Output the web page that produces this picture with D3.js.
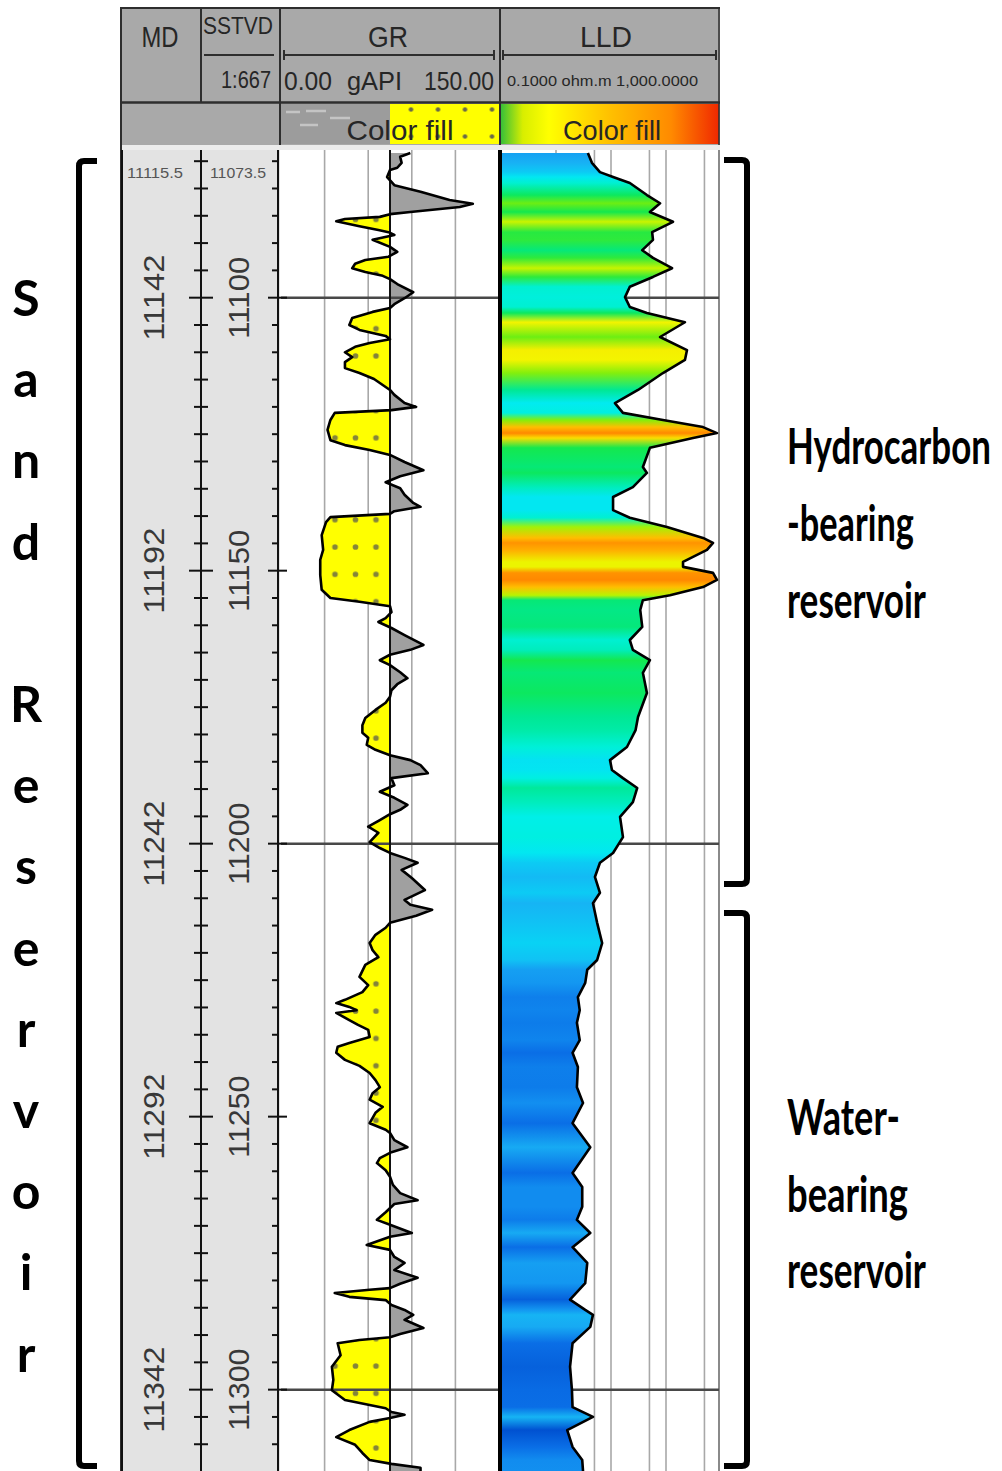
<!DOCTYPE html>
<html>
<head>
<meta charset="utf-8">
<script src="https://cdn.jsdelivr.net/npm/d3@7"></script>
<style>
  body { margin: 0; background: #fff; }
  svg { display: block; }
</style>
</head>
<body>
<div class="chart"></div>
<script>
// well log: GR + LLD over the sand reservoir
var svgWidth = 1002;
var svgHeight = 1471;

// depth (SSTVD, ft) and gamma ray (gAPI)
var grDepth = [
  11073.5, 11074.2, 11075.3, 11076.2, 11076.6, 11077.9, 11078.8, 11079.4, 11080.6, 11082.1,
  11082.8, 11083.4, 11084.3, 11084.7, 11085.2, 11085.6, 11086.0, 11086.9, 11087.6, 11088.0,
  11088.5, 11089.4, 11090.7, 11091.6, 11092.5, 11093.1, 11093.8, 11094.6, 11095.3, 11096.0,
  11096.6, 11097.5, 11099.0, 11100.1, 11101.2, 11101.9, 11102.6, 11103.7, 11105.0, 11105.9,
  11107.0, 11107.6, 11108.3, 11109.0, 11110.0, 11110.9, 11111.8, 11112.9, 11113.8, 11114.9,
  11116.0, 11116.9, 11117.8, 11119.3, 11120.0, 11120.6, 11121.1, 11122.4, 11124.2, 11126.1,
  11127.0, 11127.9, 11128.8, 11130.1, 11131.6, 11132.7, 11133.8, 11134.9, 11136.1, 11137.6,
  11138.3, 11139.1, 11139.6, 11140.2, 11141.1, 11143.5, 11146.2, 11148.0, 11150.8, 11153.5,
  11155.0, 11155.7, 11156.5, 11157.6, 11158.7, 11159.4, 11160.5, 11161.8, 11163.6, 11164.5,
  11165.4, 11166.4, 11167.3, 11168.6, 11169.7, 11170.8, 11171.9, 11173.1, 11174.2, 11175.5,
  11177.0, 11178.3, 11179.7, 11180.6, 11181.9, 11182.8, 11183.8, 11184.7, 11185.6, 11187.1,
  11188.0, 11189.3, 11190.5, 11191.6, 11192.9, 11193.8, 11194.6, 11195.7, 11196.9, 11198.0,
  11199.7, 11200.8, 11201.7, 11202.6, 11203.5, 11204.8, 11206.3, 11208.5, 11210.3, 11211.2,
  11212.1, 11213.2, 11214.5, 11215.4, 11216.7, 11218.2, 11219.5, 11220.8, 11222.2, 11224.4,
  11225.9, 11227.2, 11228.6, 11229.2, 11229.9, 11230.5, 11231.0, 11232.3, 11233.2, 11234.1,
  11235.4, 11236.5, 11237.2, 11238.3, 11239.6, 11240.7, 11242.0, 11243.3, 11244.6, 11245.7,
  11246.9, 11248.2, 11249.3, 11251.2, 11252.4, 11253.0, 11254.3, 11255.6, 11256.5, 11257.6,
  11258.5, 11259.8, 11261.0, 11262.5, 11264.0, 11265.3, 11266.0, 11267.5, 11268.9, 11269.8,
  11271.3, 11272.0, 11273.5, 11274.4, 11275.7, 11276.8, 11278.1, 11279.5, 11280.6, 11281.4,
  11281.7, 11282.3, 11283.0, 11283.6, 11284.5, 11285.4, 11286.3, 11287.2, 11288.7, 11289.8,
  11290.4, 11290.9, 11291.5, 11293.7, 11295.8, 11298.2, 11300.1, 11301.9, 11303.4, 11304.1,
  11304.6, 11305.2, 11305.9, 11307.4, 11308.7, 11310.1, 11311.6, 11312.9, 11313.6, 11314.3,
  11314.9
];
var grValue = [
  89, 82, 83, 80, 75, 73, 76, 78, 96, 116,
  132, 123, 89, 75, 68, 44, 38, 54, 67, 74,
  78, 63, 75, 80, 74, 58, 51, 49, 58, 70,
  75, 80, 91, 85, 78, 75, 63, 49, 47, 54,
  72, 75, 61, 51, 44, 49, 44, 44, 54, 64,
  70, 75, 78, 85, 93, 76, 37, 34, 32, 34,
  44, 61, 75, 85, 98, 82, 72, 82, 85, 91,
  96, 78, 75, 34, 31, 28, 29, 27, 27, 28,
  34, 54, 75, 76, 72, 67, 76, 85, 98, 89,
  75, 68, 75, 82, 87, 80, 76, 75, 72, 65,
  58, 56, 56, 60, 59, 65, 75, 89, 96, 101,
  76, 78, 68, 78, 87, 82, 75, 68, 60, 67,
  61, 68, 75, 85, 94, 83, 90, 99, 85, 89,
  104, 93, 75, 72, 65, 61, 63, 67, 58, 54,
  60, 56, 44, 38, 47, 52, 38, 47, 53, 60,
  61, 47, 39, 38, 44, 54, 61, 65, 68, 63,
  61, 70, 65, 61, 72, 75, 78, 87, 76, 68,
  66, 72, 75, 77, 82, 94, 78, 72, 66, 75,
  90, 75, 59, 75, 78, 85, 78, 94, 82, 75,
  61, 37, 47, 72, 76, 85, 91, 85, 98, 82,
  75, 54, 39, 41, 35, 36, 35, 44, 72, 76,
  85, 75, 61, 47, 38, 51, 56, 61, 76, 96,
  96
];

// depth (SSTVD, ft) and deep laterolog resistivity (ohm.m)
var lldDepth = [
  11073.5, 11075.3, 11077.0, 11077.9, 11079.0, 11081.2, 11082.7, 11084.3, 11086.1, 11088.0,
  11089.4, 11091.3, 11092.7, 11094.6, 11096.2, 11098.0, 11099.9, 11101.7, 11102.8, 11104.5,
  11107.2, 11109.6, 11111.4, 11113.8, 11116.9, 11119.3, 11121.1, 11122.4, 11123.7, 11124.8,
  11125.7, 11127.5, 11131.0, 11132.1, 11134.7, 11136.5, 11138.9, 11140.3, 11142.0, 11144.0,
  11144.9, 11146.2, 11148.4, 11149.3, 11150.4, 11151.7, 11153.0, 11154.5, 11155.4, 11157.2,
  11160.3, 11162.7, 11164.5, 11166.4, 11168.7, 11172.4, 11176.8, 11179.2, 11182.3, 11184.7,
  11186.5, 11188.0, 11189.8, 11192.4, 11195.1, 11198.8, 11201.7, 11203.5, 11206.1, 11209.0,
  11210.9, 11214.5, 11218.2, 11221.3, 11223.1, 11225.5, 11228.1, 11230.5, 11232.8, 11236.0,
  11238.3, 11240.9, 11244.6, 11247.5, 11251.2, 11255.6, 11260.3, 11262.9, 11266.5, 11268.9,
  11271.3, 11273.9, 11276.8, 11280.5, 11283.5, 11285.4, 11286.3, 11288.5, 11291.5, 11295.8,
  11300.1, 11303.2, 11305.0, 11307.4, 11310.5, 11312.9, 11314.9
];
var lldValue = [
  3.8, 4.5, 6.3, 10.9, 22, 45, 78, 51, 134, 56,
  58, 37, 58, 129, 58, 22, 18, 22, 45, 221,
  78, 241, 221, 88, 31, 11.8, 16.5, 88, 471, 845,
  310, 51, 38, 45, 25, 10.9, 10.9, 22, 104, 471,
  716, 556, 204, 204, 716, 845, 471, 118, 38, 34,
  37, 22, 25, 51, 38, 45, 31, 28, 19.5, 9.6,
  10.4, 16.5, 30, 25, 14.6, 16.5, 10.9, 6.3, 5.1, 6.3,
  4.7, 5.6, 6.9, 5.6, 3.7, 3.4, 2.5, 2.7, 2.4, 2.7,
  2.0, 2.5, 2.4, 3.1, 2.0, 4.2, 2.0, 3.0, 3.0, 2.4,
  4.2, 2.0, 3.7, 3.4, 1.8, 3.4, 4.7, 4.2, 2.0, 1.8,
  1.95, 2.0, 4.7, 1.6, 2.0, 3.0, 3.1
];

var grCutoff = 75;
var grGrid = [30, 60, 90, 120];
var lldGrid = [1, 5, 10, 50, 100, 500];
var depthLines = [11100, 11200, 11300];
var tvdLabels = [11100, 11150, 11200, 11250, 11300];
var mdOffset = 42;
var topTvd = "11073.5";
var topMd = "11115.5";
var sideWord = ["S", "a", "n", "d", "", "R", "e", "s", "e", "r", "v", "o", "i", "r"];
var hcLabel = ["Hydrocarbon", "-bearing", "reservoir"];
var waterLabel = ["Water-", "bearing", "reservoir"];

var svg = d3.select(".chart")
  .append("svg")
  .attr("width", svgWidth)
  .attr("height", svgHeight);
var defs = svg.append("defs");

var y = d3.scaleLinear().domain([11073.5, 11314.9]).range([153, 1471]);
var xGR = d3.scaleLinear().domain([0, 150]).range([281, 499]);
var xLLD = d3.scaleLog().domain([0.1, 1000]).range([501, 721]);
var trackTop = 150, trackBottom = 1471;
var armFont = "'Liberation Sans', Arial, sans-serif";
var boldFont = "Lato, 'Open Sans', sans-serif";

// resistivity colour fill, blue (wet) to orange (pay)
var lldColor = d3.scaleLinear()
  .domain([0.2, 0.3, 0.5, 0.65, 0.85, 1.1, 1.35, 1.5, 1.7, 1.9, 2.1, 2.35, 2.65, 2.9])
  .range(["#0050d0", "#0a6ee6", "#1290f0", "#18b0f4", "#08d4f4", "#00eef0", "#00f0d0",
          "#00e890", "#10e850", "#70ee10", "#c4f400", "#f4f400", "#ffc400", "#ff8800"])
  .clamp(true);

var grRows = grDepth.map(function(d, i) { return {depth: d, v: grValue[i]}; });
var lldRows = lldDepth.map(function(d, i) { return {depth: d, v: lldValue[i]}; });

// ---- patterns / gradients
var dots = defs.append("pattern").attr("id", "sandDots")
  .attr("patternUnits", "userSpaceOnUse")
  .attr("x", 324.75).attr("y", 533.35).attr("width", 20.5).attr("height", 27.3);
dots.append("rect").attr("width", 20.5).attr("height", 27.3).attr("fill", "#ffff00");
dots.append("circle").attr("cx", 10.25).attr("cy", 13.65).attr("r", 2.8).attr("fill", "#84843a");

var dotsLegend = defs.append("pattern").attr("id", "sandDotsLegend")
  .attr("patternUnits", "userSpaceOnUse")
  .attr("x", 397.5).attr("y", 96).attr("width", 27).attr("height", 27);
dotsLegend.append("rect").attr("width", 27).attr("height", 27).attr("fill", "#ffff00");
dotsLegend.append("circle").attr("cx", 13.5).attr("cy", 13.5).attr("r", 2.3).attr("fill", "#6a6a48");

var legGrad = defs.append("linearGradient").attr("id", "lldLegend")
  .attr("x1", "0%").attr("x2", "100%").attr("y1", "0%").attr("y2", "0%");
[[0, "#38c038"], [0.1, "#d8ee00"], [0.22, "#ffff00"], [0.5, "#ffc000"], [0.78, "#ff8a00"], [1, "#f02800"]]
  .forEach(function(s) { legGrad.append("stop").attr("offset", s[0]).attr("stop-color", s[1]); });

var gy0 = y(lldDepth[0]), gy1 = y(lldDepth[lldDepth.length - 1]);
var fillGrad = defs.append("linearGradient").attr("id", "lldFill")
  .attr("gradientUnits", "userSpaceOnUse")
  .attr("x1", 0).attr("x2", 0).attr("y1", gy0).attr("y2", gy1);
fillGrad.selectAll("stop").data(lldRows).enter().append("stop")
  .attr("offset", function(d) { return (y(d.depth) - gy0) / (gy1 - gy0); })
  .attr("stop-color", function(d) { return lldColor(Math.log10(d.v)); });

defs.append("clipPath").attr("id", "grLeft").append("rect")
  .attr("x", 281).attr("y", trackTop).attr("width", xGR(grCutoff) - 281).attr("height", trackBottom - trackTop);
defs.append("clipPath").attr("id", "grRight").append("rect")
  .attr("x", xGR(grCutoff)).attr("y", trackTop).attr("width", 499 - xGR(grCutoff)).attr("height", trackBottom - trackTop);
defs.append("clipPath").attr("id", "lldClip").append("rect")
  .attr("x", 501).attr("y", trackTop).attr("width", 218).attr("height", trackBottom - trackTop);

// ---- header
var head = svg.append("g");
head.append("rect").attr("x", 120).attr("y", 7).attr("width", 600).attr("height", 138).attr("fill", "#a9a9a9");
head.append("rect").attr("x", 281).attr("y", 104).attr("width", xGR(grCutoff) - 281).attr("height", 40).attr("fill", "#9c9c9c");
[[286, 112, 300], [306, 111, 326], [300, 125, 318], [330, 118, 350]].forEach(function(s) {
  head.append("line").attr("x1", s[0]).attr("x2", s[2]).attr("y1", s[1]).attr("y2", s[1])
    .attr("stroke", "#c4c4c4").attr("stroke-width", 2.5);
});
head.append("rect").attr("x", xGR(grCutoff)).attr("y", 104).attr("width", 499 - xGR(grCutoff)).attr("height", 40)
  .attr("fill", "url(#sandDotsLegend)");
head.append("rect").attr("x", 501).attr("y", 104).attr("width", 218).attr("height", 40).attr("fill", "url(#lldLegend)");
head.append("rect").attr("x", 120).attr("y", 145).attr("width", 600).attr("height", 5).attr("fill", "#ececec");

var hl = [[120, 8, 720, 8, 2], [120, 102.5, 720, 102.5, 2.5], [121, 7, 121, trackBottom, 2],
          [201, 7, 201, 102, 2], [280, 7, 280, 145, 2], [500, 7, 500, 145, 2], [719, 7, 719, 145, 1.5],
          [204, 55, 274, 55, 2], [284, 55, 494, 55, 2], [284, 50, 284, 60, 2], [494, 50, 494, 60, 2],
          [503, 55, 716, 55, 2], [503, 50, 503, 60, 2], [716, 50, 716, 60, 2]];
hl.forEach(function(l) {
  head.append("line").attr("x1", l[0]).attr("y1", l[1]).attr("x2", l[2]).attr("y2", l[3])
    .attr("stroke", "#2e2e2e").attr("stroke-width", l[4]);
});

var headText = [
  ["MD", 160, 47, 30, 37, "middle"], ["SSTVD", 238, 34, 24, 70, "middle"], ["1:667", 271, 88, 24, 50, "end"],
  ["GR", 388, 47, 30, 40, "middle"], ["LLD", 606, 47, 30, 52, "middle"],
  ["0.00", 284, 90, 26, 48, "start"], ["gAPI", 347, 90, 26, 55, "start"], ["150.00", 494, 90, 26, 70, "end"],
  ["0.1000 ohm.m 1,000.0000", 507, 86, 14, 191, "start"],
  ["Color fill", 400, 140, 28, 107, "middle"], ["Color fill", 612, 140, 28, 98, "middle"]
];
headText.forEach(function(t) {
  head.append("text").text(t[0])
    .attr("x", t[1]).attr("y", t[2])
    .attr("font-family", armFont).attr("font-size", t[3])
    .attr("textLength", t[4]).attr("lengthAdjust", "spacingAndGlyphs")
    .attr("text-anchor", t[5]).attr("fill", "#262626");
});

// ---- track backgrounds
svg.append("rect").attr("x", 122).attr("y", trackTop).attr("width", 158).attr("height", trackBottom - trackTop).attr("fill", "#e3e3e3");
svg.append("rect").attr("x", 281).attr("y", trackTop).attr("width", 218).attr("height", trackBottom - trackTop).attr("fill", "#fff");
svg.append("rect").attr("x", 501).attr("y", trackTop).attr("width", 218).attr("height", trackBottom - trackTop).attr("fill", "#fff");

// grid
svg.selectAll(".grGrid").data(grGrid).enter().append("line")
  .attr("x1", function(d) { return xGR(d); }).attr("x2", function(d) { return xGR(d); })
  .attr("y1", trackTop).attr("y2", trackBottom)
  .attr("stroke", "#a8a8a8").attr("stroke-width", 1.6);
svg.selectAll(".lldGrid").data(lldGrid).enter().append("line")
  .attr("x1", function(d) { return xLLD(d); }).attr("x2", function(d) { return xLLD(d); })
  .attr("y1", trackTop).attr("y2", trackBottom)
  .attr("stroke", "#a8a8a8").attr("stroke-width", 1.6);
svg.append("line").attr("x1", 719).attr("x2", 719).attr("y1", trackTop).attr("y2", trackBottom)
  .attr("stroke", "#8a8a8a").attr("stroke-width", 2);
svg.selectAll(".dLineL").data(depthLines).enter().append("line")
  .attr("x1", 501).attr("x2", 719)
  .attr("y1", function(d) { return y(d); }).attr("y2", function(d) { return y(d); })
  .attr("stroke", "#484848").attr("stroke-width", 2.5);

// ---- GR fills and curve
var grArea = d3.area()
  .y(function(d) { return y(d.depth); })
  .x0(xGR(grCutoff))
  .x1(function(d) { return xGR(d.v); });
svg.append("path").datum(grRows).attr("d", grArea)
  .attr("fill", "url(#sandDots)").attr("clip-path", "url(#grLeft)");
svg.append("path").datum(grRows).attr("d", grArea)
  .attr("fill", "#a0a0a0").attr("clip-path", "url(#grRight)");
svg.selectAll(".dLineG").data(depthLines).enter().append("line")
  .attr("x1", 281).attr("x2", 499)
  .attr("y1", function(d) { return y(d); }).attr("y2", function(d) { return y(d); })
  .attr("stroke", "#484848").attr("stroke-width", 2.5);
svg.append("line").attr("x1", xGR(grCutoff)).attr("x2", xGR(grCutoff))
  .attr("y1", trackTop).attr("y2", trackBottom).attr("stroke", "#111").attr("stroke-width", 2);
svg.append("path").datum(grRows)
  .attr("d", d3.line().x(function(d) { return xGR(d.v); }).y(function(d) { return y(d.depth); }))
  .attr("fill", "none").attr("stroke", "#000").attr("stroke-width", 2.6).attr("stroke-linejoin", "round");

// ---- LLD colour fill and curve
var lldArea = d3.area()
  .y(function(d) { return y(d.depth); })
  .x0(501)
  .x1(function(d) { return xLLD(d.v); });
svg.append("path").datum(lldRows).attr("d", lldArea)
  .attr("fill", "url(#lldFill)").attr("clip-path", "url(#lldClip)");
svg.append("path").datum(lldRows)
  .attr("d", d3.line().x(function(d) { return xLLD(d.v); }).y(function(d) { return y(d.depth); }))
  .attr("fill", "none").attr("stroke", "#000").attr("stroke-width", 2.6).attr("stroke-linejoin", "round");
svg.append("line").attr("x1", 500).attr("x2", 500).attr("y1", trackTop).attr("y2", trackBottom)
  .attr("stroke", "#000").attr("stroke-width", 4);

// ---- depth track
[122, 201, 278].forEach(function(x) {
  svg.append("line").attr("x1", x).attr("x2", x).attr("y1", trackTop).attr("y2", trackBottom)
    .attr("stroke", "#111").attr("stroke-width", 2);
});
var ticks = d3.range(11075, 11315, 5);
svg.selectAll(".tickC").data(ticks).enter().append("line")
  .attr("x1", function(d) { return d % 50 === 0 ? 189 : 194; })
  .attr("x2", function(d) { return d % 50 === 0 ? 213 : 208; })
  .attr("y1", function(d) { return y(d); }).attr("y2", function(d) { return y(d); })
  .attr("stroke", "#111").attr("stroke-width", 2);
svg.selectAll(".tickR").data(ticks).enter().append("line")
  .attr("x1", function(d) { return d % 50 === 0 ? 268 : 272; })
  .attr("x2", function(d) { return d % 50 === 0 ? 287 : 278; })
  .attr("y1", function(d) { return y(d); }).attr("y2", function(d) { return y(d); })
  .attr("stroke", "#111").attr("stroke-width", 2);

svg.selectAll(".mdLab").data(tvdLabels).enter().append("text")
  .text(function(d) { return d + mdOffset; })
  .attr("transform", function(d) { return "translate(153," + y(d) + ") rotate(-90)"; })
  .attr("text-anchor", "middle").attr("dy", "0.36em")
  .attr("font-family", armFont).attr("font-size", 30)
  .attr("textLength", 86).attr("lengthAdjust", "spacingAndGlyphs")
  .attr("fill", "#383838");
svg.selectAll(".tvdLab").data(tvdLabels).enter().append("text")
  .text(function(d) { return d; })
  .attr("transform", function(d) { return "translate(238," + y(d) + ") rotate(-90)"; })
  .attr("text-anchor", "middle").attr("dy", "0.36em")
  .attr("font-family", armFont).attr("font-size", 30)
  .attr("textLength", 82).attr("lengthAdjust", "spacingAndGlyphs")
  .attr("fill", "#383838");
[[topMd, 155], [topTvd, 238]].forEach(function(t) {
  svg.append("text").text(t[0]).attr("x", t[1]).attr("y", 178)
    .attr("text-anchor", "middle").attr("font-family", armFont).attr("font-size", 14)
    .attr("textLength", 56).attr("lengthAdjust", "spacingAndGlyphs").attr("fill", "#555");
});

// ---- brackets and annotations
var brackets = [
  "M97,161 H84 Q79,161 79,166 V1461 Q79,1466 84,1466 H97",
  "M724,160 H742 Q747,160 747,165 V879 Q747,884 742,884 H724",
  "M724,913 H742 Q747,913 747,918 V1461 Q747,1466 742,1466 H724"
];
svg.selectAll(".bracket").data(brackets).enter().append("path")
  .attr("d", function(d) { return d; })
  .attr("fill", "none").attr("stroke", "#000").attr("stroke-width", 6);

svg.selectAll(".side").data(sideWord).enter().append("text")
  .text(function(d) { return d; })
  .attr("x", 26).attr("y", function(d, i) { return 316 + i * 81.2; })
  .attr("text-anchor", "middle")
  .attr("font-family", boldFont).attr("font-weight", 700).attr("font-size", 50)
  .attr("fill", "#000");

// condensed bold labels: squeeze each line horizontally to its width in the picture
function squeezed(cls, lines, widths, y0, step) {
  svg.selectAll("." + cls).data(lines).enter().append("text")
    .attr("class", cls)
    .text(function(d) { return d; })
    .attr("x", 0).attr("y", 0)
    .attr("font-family", boldFont).attr("font-weight", 700).attr("font-size", 50)
    .attr("fill", "#000")
    .attr("transform", function(d, i) {
      var w = this.getComputedTextLength();
      return "translate(787," + (y0 + i * step) + ") scale(" + (widths[i] / w) + ",1)";
    });
}
squeezed("hc", hcLabel, [204, 127, 139], 464, 77);
squeezed("wb", waterLabel, [113, 121, 139], 1135, 76.5);
</script>
</body>
</html>
